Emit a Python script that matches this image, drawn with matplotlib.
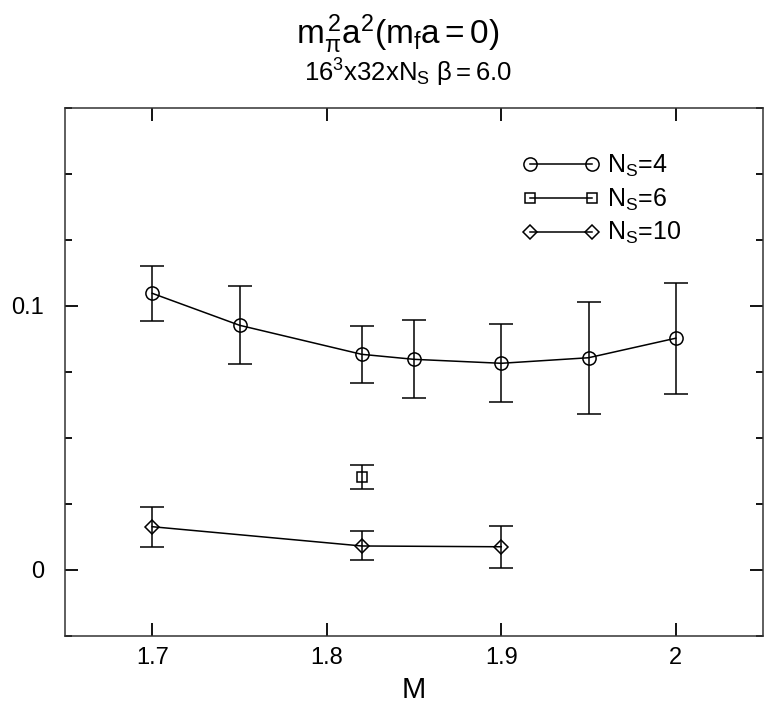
import matplotlib
matplotlib.use('Agg')
import matplotlib.pyplot as plt
from matplotlib.lines import Line2D
from matplotlib.ticker import MultipleLocator, FixedLocator

plt.rcParams['font.family'] = ['Liberation Sans', 'DejaVu Sans']
plt.rcParams['mathtext.fontset'] = 'custom'
plt.rcParams['mathtext.rm'] = 'Liberation Sans'
plt.rcParams['mathtext.it'] = 'Liberation Sans'
plt.rcParams['mathtext.sf'] = 'Liberation Sans'

# N_s = 4
M4 = [1.70, 1.75, 1.82, 1.85, 1.90, 1.95, 2.00]
y4 = [0.1048, 0.0927, 0.0817, 0.0798, 0.0783, 0.0804, 0.0878]
e4 = [0.0104, 0.0148, 0.0108, 0.0148, 0.0148, 0.0212, 0.0210]

# N_s = 6
M6 = [1.82]
y6 = [0.0352]
e6 = [0.0045]

# N_s = 10
M10 = [1.70, 1.82, 1.90]
y10 = [0.0164, 0.0091, 0.0088]
e10 = [0.0075, 0.0055, 0.0080]

labels = [r'$\mathrm{N_S}$=4', r'$\mathrm{N_S}$=6', r'$\mathrm{N_S}$=10']
markers = ['o', 's', 'D']
sizes = [9.5, 7.5, 7]

fig = plt.figure(figsize=(7.66, 7.11), dpi=100)
ax = fig.add_axes([65/766, 1-636/711, (763-65)/766, (636-108)/711])

style = dict(color='black', lw=1.1, mfc='none', mec='black', mew=1.1,
             elinewidth=1.1, capsize=8.5, capthick=1.1)
for (M, y, e), mk, ms in zip([(M4, y4, e4), (M6, y6, e6), (M10, y10, e10)], markers, sizes):
    ax.errorbar(M, y, yerr=e, marker=mk, ms=ms, **style)

ax.set_xlim(1.65, 2.05)
ax.set_ylim(-0.025, 0.175)
ax.xaxis.set_major_locator(FixedLocator([1.7, 1.8, 1.9, 2.0]))
ax.set_xticklabels(['1.7', '1.8', '1.9', '2'])
ax.yaxis.set_major_locator(FixedLocator([0.0, 0.1]))
ax.set_yticklabels(['0', '0.1'])
ax.yaxis.set_minor_locator(MultipleLocator(0.025))
ax.tick_params(which='both', direction='in', top=True, right=True, width=1.3)
ax.tick_params(which='major', length=9.5, labelsize=17)
ax.tick_params(axis='x', which='major', pad=8)
ax.tick_params(axis='y', which='major', pad=15)
ax.tick_params(which='minor', length=5)
for s in ax.spines.values():
    s.set_linewidth(1.1)
    s.set_color('#333333')

ax.set_xlabel('M', fontsize=21, labelpad=5)

handles = [Line2D([], [], color='black', lw=1.1, marker=mk, ms=ms, mfc='none',
                  mec='black', mew=1.1) for mk, ms in zip(markers, sizes)]
ax.legend(handles, labels, loc='upper left', bbox_to_anchor=(0.655, 0.915),
          frameon=False, numpoints=2, fontsize=18, handlelength=3.1,
          handletextpad=0.3, labelspacing=0.3, borderpad=0, borderaxespad=0)

fig.text(398/766, 1-44/711, r'$\mathrm{m_{\pi}^{\,2}a^{2}(m_{f}a=0)}$',
         ha='center', va='baseline', fontsize=24)
fig.text(408/766, 1-82/711, r'$\mathrm{16^{3}x32xN_{S}\ \beta{=}6.0}$',
         ha='center', va='baseline', fontsize=18.5)

fig.savefig('out.png', dpi=100)
